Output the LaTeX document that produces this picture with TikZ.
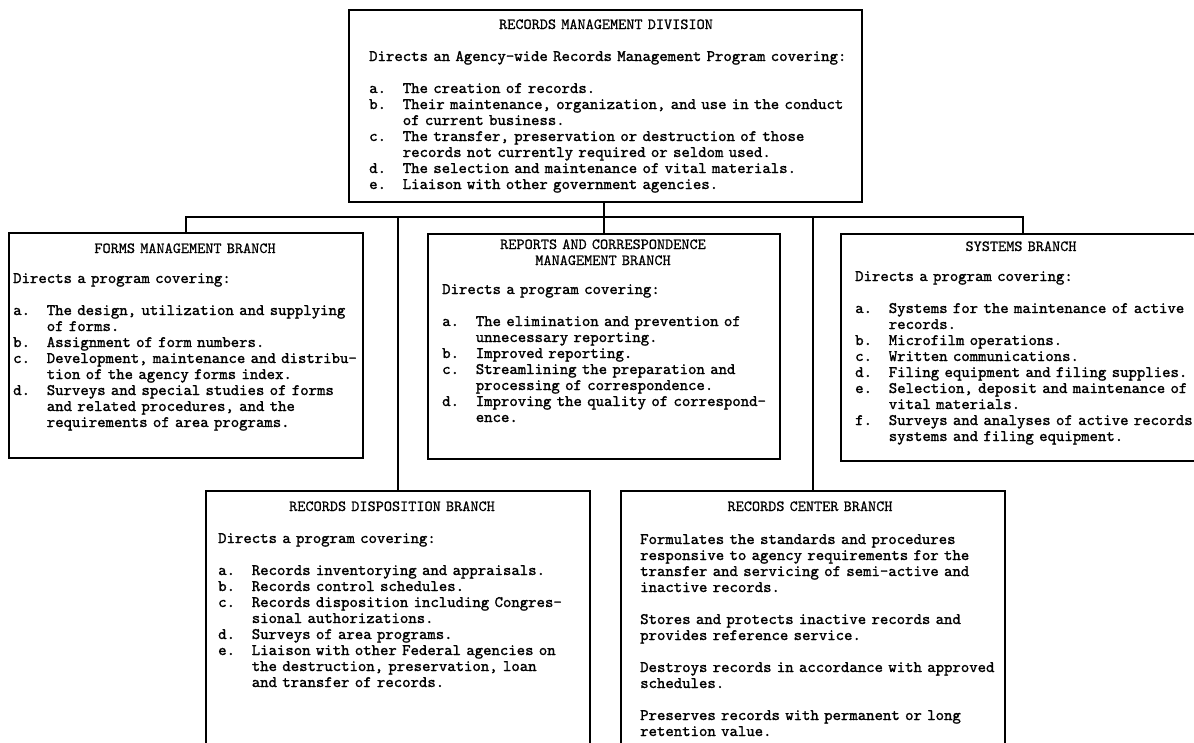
\documentclass[tikz,border=0pt]{standalone}
\usepackage{fontspec}
\newfontfamily\tw{lmmono10-regular}[Extension=.otf, FakeBold=1.4]
\newfontfamily\twt{lmmono10-regular}[Extension=.otf, FakeBold=0.6]
\newcommand\ind{\hspace*{2.1em}}
\newcommand\itm[1]{\makebox[2.1em][l]{#1}}
\tikzset{
  frame/.style={draw, line width=1.6pt, inner sep=0pt, anchor=north west, rectangle},
  body/.style={inner sep=0pt, anchor=base west, text width=560pt, align=left,
    font=\tw\fontsize{16}{16}\selectfont},
  ttl/.style={inner sep=0pt, anchor=base, text width=400pt, align=center,
    font=\twt\fontsize{15.5}{16}\selectfont},
  link/.style={line width=1.6pt}
}
\begin{document}
\begin{tikzpicture}[x=1pt,y=-1pt]
\useasboundingbox (0,0) rectangle (1194,742);
% frames
\node[frame, minimum width=513pt, minimum height=192pt] (top) at (348,9) {};
\node[frame, minimum width=354pt, minimum height=225pt] (forms) at (8,232) {};
\node[frame, minimum width=352pt, minimum height=225pt] (reports) at (427,233) {};
\node[frame, minimum width=364pt, minimum height=227pt] (sys) at (840,233) {};
\node[frame, minimum width=384pt, minimum height=270pt] (disp) at (205,490) {};
\node[frame, minimum width=384pt, minimum height=270pt] (ctr) at (620,490) {};
% connectors
\coordinate (bar) at (603,217);
\draw[link] (top.south -| reports.north) -- (reports.north);
\draw[link] (forms.north) |- (bar) -| (sys.north);
\draw[link] (disp.north) -- (disp.north |- bar);
\draw[link] (ctr.north) -- (ctr.north |- bar);
% top box
\node[ttl] (topT) at (606,29) {RECORDS MANAGEMENT DIVISION};
\node[body] (topB) at (369,61) {\frenchspacing
Directs an Agency-wide Records Management Program covering:\\[16pt]
\itm{a.}The creation of records.\\
\itm{b.}Their maintenance, organization, and use in the conduct\\
\ind of current business.\\
\itm{c.}The transfer, preservation or destruction of those\\
\ind records not currently required or seldom used.\\
\itm{d.}The selection and maintenance of vital materials.\\
\itm{e.}Liaison with other government agencies.};
% forms
\node[ttl] (formsT) at (185,253) {FORMS MANAGEMENT BRANCH};
\node[body] (formsB) at (13,283) {\frenchspacing
Directs a program covering:\\[16pt]
\itm{a.}The design, utilization and supplying\\
\ind of forms.\\
\itm{b.}Assignment of form numbers.\\
\itm{c.}Development, maintenance and distribu-\\
\ind tion of the agency forms index.\\
\itm{d.}Surveys and special studies of forms\\
\ind and related procedures, and the\\
\ind requirements of area programs.};
% reports
\node[ttl] (reportsT) at (603,249) {REPORTS AND CORRESPONDENCE\\MANAGEMENT BRANCH};
\node[body] (reportsB) at (442,294) {\frenchspacing
Directs a program covering:\\[16pt]
\itm{a.}The elimination and prevention of\\
\ind unnecessary reporting.\\
\itm{b.}Improved reporting.\\
\itm{c.}Streamlining the preparation and\\
\ind processing of correspondence.\\
\itm{d.}Improving the quality of correspond-\\
\ind ence.};
% systems
\node[ttl] (sysT) at (1021,251) {SYSTEMS BRANCH};
\node[body] (sysB) at (855,281) {\frenchspacing
Directs a program covering:\\[16pt]
\itm{a.}Systems for the maintenance of active\\
\ind records.\\
\itm{b.}Microfilm operations.\\
\itm{c.}Written communications.\\
\itm{d.}Filing equipment and filing supplies.\\
\itm{e.}Selection, deposit and maintenance of\\
\ind vital materials.\\
\itm{f.}Surveys and analyses of active records\\
\ind systems and filing equipment.};
% disposition
\node[ttl] (dispT) at (392,511) {RECORDS DISPOSITION BRANCH};
\node[body] (dispB) at (218,543) {\frenchspacing
Directs a program covering:\\[16pt]
\itm{a.}Records inventorying and appraisals.\\
\itm{b.}Records control schedules.\\
\itm{c.}Records disposition including Congres-\\
\ind sional authorizations.\\
\itm{d.}Surveys of area programs.\\
\itm{e.}Liaison with other Federal agencies on\\
\ind the destruction, preservation, loan\\
\ind and transfer of records.};
% records center
\node[ttl] (ctrT) at (810,511) {RECORDS CENTER BRANCH};
\node[body] (ctrB) at (640,544) {\frenchspacing
Formulates the standards and procedures\\
responsive to agency requirements for the\\
transfer and servicing of semi-active and\\
inactive records.\\[16pt]
Stores and protects inactive records and\\
provides reference service.\\[16pt]
Destroys records in accordance with approved\\
schedules.\\[16pt]
Preserves records with permanent or long\\
retention value.};
\end{tikzpicture}
\end{document}
